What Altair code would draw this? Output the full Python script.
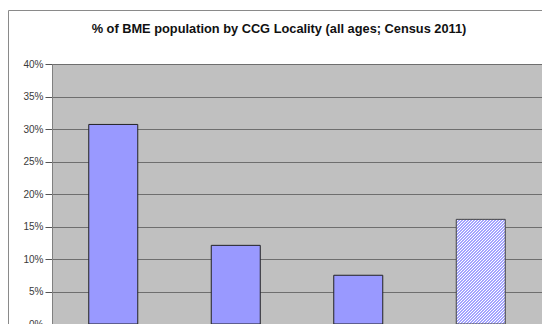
import altair as alt
import pandas as pd

categories = ["Locality 1", "Locality 2", "Locality 3", "CCG Total"]
bme_pct = [30.7, 12.1, 7.5, 16.1]
hatched = [False, False, False, True]
y_ticks = [0, 5, 10, 15, 20, 25, 30, 35, 40]
title_text = "% of BME population by CCG Locality (all ages; Census 2011)"

df = pd.DataFrame({"loc": categories, "pct": bme_pct, "hatch": hatched})

PLOT_W, PLOT_H = 490, 260

# striped (upward diagonal) fill for the hatched bar, period aligned to pixels
bar_w = 49.0
bar_h = 16.1 / 40 * PLOT_H
r = bar_w / bar_h
s = (r + 1) / (r * r + 1)
D = bar_w + bar_h
period = 3.0
blue = "#a4a4ff"
white = "#ffffff"
stops = [{"offset": 0, "color": white}]
k = 0
while True:
    b0 = k * period + 0.25
    b1 = k * period + 1.75
    if b1 >= D:
        break
    stops += [
        {"offset": b0 / D, "color": white},
        {"offset": b0 / D, "color": blue},
        {"offset": b1 / D, "color": blue},
        {"offset": b1 / D, "color": white},
    ]
    k += 1
stops.append({"offset": 1, "color": white})
stripe = {"gradient": "linear", "x1": 0, "y1": 0, "x2": r * s, "y2": s, "stops": stops}

x = alt.X("loc:N", sort=categories, title=None,
          scale=alt.Scale(paddingInner=0.6, paddingOuter=0.3),
          axis=alt.Axis(labelAngle=0, ticks=False, labelFontSize=10, labelColor="#333"))
y = alt.Y("pct:Q", title=None,
          scale=alt.Scale(domain=[0, 40], nice=False),
          axis=alt.Axis(values=y_ticks, labelExpr="datum.value + '%'", labelFontSize=10,
                        labelColor="#3a3a3a", labelFont="Liberation Sans", tickSize=7,
                        tickColor="#555", labelPadding=2, domainColor="#808080",
                        gridColor="#6e6e6e", gridWidth=1))

base = alt.Chart(df)
solid = base.transform_filter("!datum.hatch").mark_bar(
    color="#9999ff", stroke="#222", strokeWidth=1).encode(x=x, y=y)
hatch = base.transform_filter("datum.hatch").mark_bar(
    fill=stripe, stroke="#444", strokeWidth=1).encode(x=x, y=y)

border = alt.Chart(pd.DataFrame({"k": [0]})).mark_rect(
    fillOpacity=0, stroke="#8a8a8a", strokeWidth=1).encode(
    x=alt.value(-43.5), x2=alt.value(700), y=alt.value(-53.5), y2=alt.value(500))

title = alt.Chart(pd.DataFrame({"t": [title_text]})).mark_text(
    font="Liberation Sans", fontSize=12.8, fontWeight="bold", color="#111",
    align="center", baseline="alphabetic").encode(
    text="t:N", x=alt.value(227), y=alt.value(-31))

chart = alt.layer(solid, hatch, border, title).properties(
    width=PLOT_W, height=PLOT_H,
    autosize=alt.AutoSizeParams(type="none"),
    padding={"left": 52, "top": 64, "right": 0, "bottom": 40},
    background="white",
).configure_view(fill="#c0c0c0", stroke="#808080").configure_axis(labelFont="Liberation Sans")

chart.save("out.html", embed_options={"renderer": "svg", "actions": False})
